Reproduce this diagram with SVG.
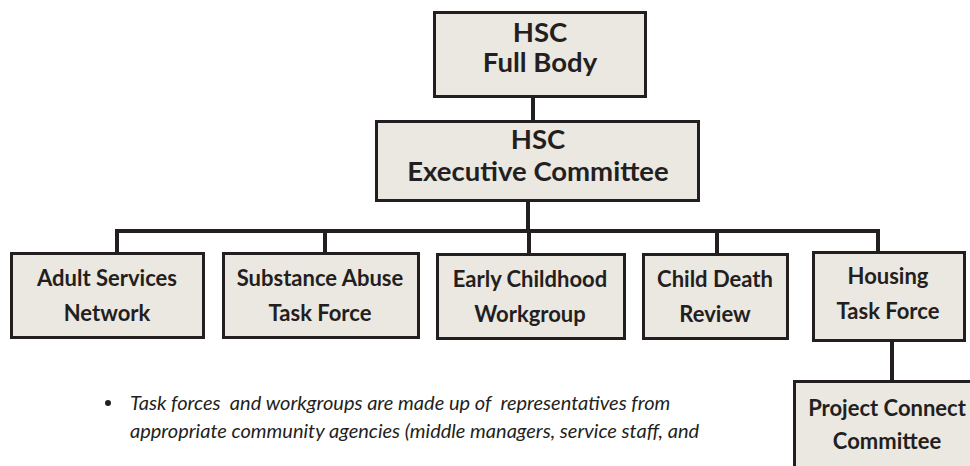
<svg xmlns="http://www.w3.org/2000/svg" width="970" height="466" viewBox="0 0 970 466">
<style>
.box{fill:#ebe7e1;stroke:#231f20;stroke-width:3}
.big{font-family:Lato,"Open Sans",sans-serif;font-weight:bold;font-size:27.5px;fill:#231f20;text-anchor:middle}
.sm{font-family:Lato,"Open Sans",sans-serif;font-weight:bold;font-size:22px;fill:#231f20;text-anchor:middle}
.note{font-family:Lato,"Open Sans",sans-serif;font-style:italic;font-size:20px;fill:#231f20}
.ln{stroke:#231f20;stroke-width:4;fill:none}
</style>
<g id="connectors">
<line class="ln" x1="533" y1="97" x2="533" y2="120"/>
<line class="ln" x1="528" y1="201" x2="528" y2="231"/>
<line class="ln" x1="115" y1="231" x2="880" y2="231"/>
<line class="ln" x1="117" y1="229" x2="117" y2="252"/>
<line class="ln" x1="325" y1="231" x2="325" y2="252"/>
<line class="ln" x1="529" y1="231" x2="529" y2="253"/>
<line class="ln" x1="717" y1="231" x2="717" y2="253"/>
<line class="ln" x1="878" y1="229" x2="878" y2="251"/>
<line class="ln" x1="892" y1="341" x2="892" y2="380"/>
</g>
<g id="full-body">
<rect class="box" x="434.5" y="12.5" width="211" height="84"/>
<text class="big" x="540" y="42">HSC</text>
<text class="big" x="540" y="72">Full Body</text>
</g>
<g id="exec">
<rect class="box" x="376.5" y="121.5" width="322" height="79"/>
<text class="big" x="538" y="149">HSC</text>
<text class="big" x="538" y="181">Executive Committee</text>
</g>
<g id="adult">
<rect class="box" x="11.5" y="253.5" width="192" height="84"/>
<text class="sm" x="107" y="286">Adult Services</text>
<text class="sm" x="107" y="321">Network</text>
</g>
<g id="substance">
<rect class="box" x="223.5" y="253.5" width="195" height="84"/>
<text class="sm" x="320" y="286">Substance Abuse</text>
<text class="sm" x="320" y="321">Task Force</text>
</g>
<g id="early">
<rect class="box" x="437.5" y="254.5" width="187" height="84"/>
<text class="sm" x="530" y="287">Early Childhood</text>
<text class="sm" x="530" y="322">Workgroup</text>
</g>
<g id="child">
<rect class="box" x="643.5" y="254.5" width="144" height="84"/>
<text class="sm" x="715" y="287">Child Death</text>
<text class="sm" x="715" y="322">Review</text>
</g>
<g id="housing">
<rect class="box" x="813.5" y="252.5" width="151" height="88"/>
<text class="sm" x="888" y="284">Housing</text>
<text class="sm" x="888" y="319">Task Force</text>
</g>
<g id="project">
<rect class="box" x="794.5" y="381.5" width="190" height="100"/>
<text class="sm" x="887" y="416">Project Connect</text>
<text class="sm" x="887" y="449">Committee</text>
</g>
<g id="note">
<circle cx="108" cy="403" r="3" fill="#231f20"/>
<text class="note" x="130" y="410" xml:space="preserve">Task forces  and workgroups are made up of  representatives from</text>
<text class="note" x="130" y="438" xml:space="preserve">appropriate community agencies (middle managers, service staff, and</text>
</g>
</svg>
